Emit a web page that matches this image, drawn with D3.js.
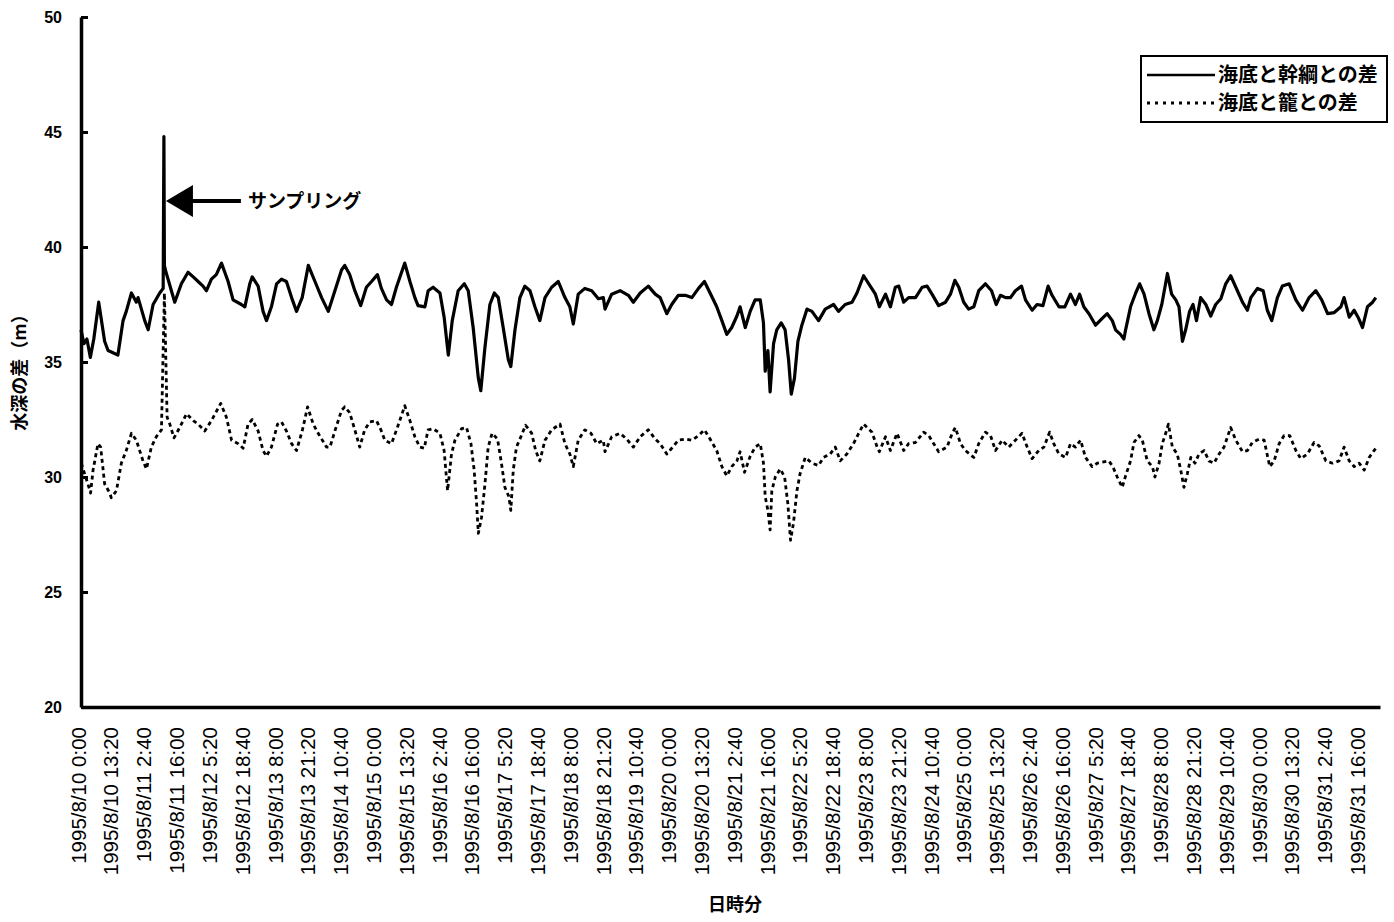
<!DOCTYPE html>
<html lang="ja">
<head>
<meta charset="utf-8">
<title>水深の差</title>
<script src="https://cdn.jsdelivr.net/npm/d3@7"></script>
<style>
  body { margin: 0; background: #fff; }
  svg { display: block; }
</style>
</head>
<body>
<div id="chart"></div>
<script>
// hours after 1995/8/10 0:00
const trunkHours = [
  0, 1.2, 2.4, 3.8, 5.2, 7.2, 9.6, 11, 13, 15,
  17.1, 18.4, 20.5, 22.5, 23.2, 25.9, 27.3, 29.3, 32, 33.4,
  33.7, 33.9, 34.3, 38.1, 40.8, 43.5, 45.6, 47.6, 49.6, 51,
  53, 55, 57.1, 59.8, 61.8, 65.2, 66.6, 68.6, 69.6, 72,
  74, 75.4, 77.4, 79.5, 81.5, 83.5, 85.6, 87.6, 89.9, 92.4,
  95.1, 97.8, 100.5, 103.2, 105.9,
  107.2, 109.2, 111.3, 113.7, 116.0, 118.1, 120.5, 122.1, 124.2, 126.2,
  128.2, 131.6, 133.7, 135.7, 137.0, 139.8, 141.1, 143.1, 145.9, 147.6,
  149.3, 150.9, 153.3, 155.8, 157.4, 159.4, 161.5, 162.5, 164.2, 166.2,
  168.0, 169.6, 171.6, 173.7, 174.7, 176.4, 178.4, 180.4, 182.5, 184.5,
  186.5, 188.6, 191.3, 194.0, 196.7, 198.7, 200.1, 202.1, 204.8, 207.6,
  210.3, 212.3,
  213.0, 215.7, 219.1, 222.5, 224.5, 227.3, 230.6, 233.4, 235.4, 238.1,
  240.1, 242.8, 245.6, 248.3, 251.0, 253.4, 255.7, 258.4, 260.5, 262.5,
  264.5, 266.6, 267.9, 270.0, 272.0, 274.0, 276.1, 277.4, 278.1, 279.2,
  280.1, 281.5, 282.8, 284.6, 286.2, 287.6, 288.7, 290.0, 291.4, 293.0,
  295.1, 297.1, 299.8, 302.5, 305.9, 307.9, 310.6, 313.4, 315.4, 318.1,
  320.8, 322.9, 324.5, 327.0, 329.0, 331.0, 332.4, 334.4, 336.4, 339.2,
  341.9, 343.9, 345.9, 348.6, 351.4, 353.4, 355.2, 356.8, 358.8, 360.8,
  362.9, 364.9, 367.6, 370.1, 372.0, 373.7, 375.8, 377.8, 379.8, 382.3,
  383.9, 386.6, 388.6, 391.0, 393.1, 394.7, 397.5, 399.9, 402.2, 404.2,
  405.9, 407.6, 409.7, 412.4, 415.1, 417.1, 419.2, 420.5, 422.5, 423.9,
  424.6, 426.6, 428.7, 430.3, 432.1, 434.1, 436.1, 437.5, 439.3, 441.6,
  443.3, 445.0, 446.3, 447.7, 449.0, 450.6, 452.0, 453.4, 455.1, 457.2,
  459.2, 461.2, 463.3, 465.3, 467.3, 469.4, 472.1, 474.1, 475.5, 478.2,
  480.5, 482.2, 484.0, 486.3, 488.3, 491.1, 493.8, 496.5, 499.2, 501.9,
  504.3, 506.7, 509.4, 512.1, 513.4, 515.5, 517.5, 519.3, 520.9, 522.9,
  525.0, 526.3
];
// 海底と幹綱との差 (m)
const trunkDepth = [
  36.4, 35.8, 36.0, 35.2, 36.0, 37.6, 35.9, 35.5, 35.4, 35.3,
  36.8, 37.2, 38.0, 37.6, 37.8, 36.8, 36.4, 37.5, 38.0, 38.2,
  44.8, 39.2, 39.0, 37.6, 38.4, 38.9, 38.7, 38.5, 38.3, 38.1,
  38.6, 38.8, 39.3, 38.5, 37.7, 37.5, 37.4, 38.4, 38.7, 38.3,
  37.2, 36.8, 37.4, 38.4, 38.6, 38.5, 37.8, 37.2, 37.8, 39.2,
  38.5, 37.8, 37.2, 38.1, 39.0,
  39.2, 38.8, 38.1, 37.45, 38.25, 38.5, 38.8, 38.2, 37.7, 37.5,
  38.25, 39.3, 38.5, 37.8, 37.45, 37.4, 38.1, 38.25, 38.0, 36.95,
  35.3, 36.8, 38.1, 38.4, 38.1, 36.5, 34.3, 33.75, 35.65, 37.5,
  38.0, 37.8, 36.5, 35.1, 34.8, 36.4, 37.8, 38.3, 38.1, 37.4,
  36.8, 37.8, 38.25, 38.5, 37.8, 37.4, 36.65, 37.95, 38.2, 38.1,
  37.75, 37.8,
  37.3, 37.95, 38.1, 37.9, 37.6, 38.0, 38.3, 37.95, 37.8, 37.1,
  37.5, 37.9, 37.9, 37.8, 38.2, 38.5, 38.0, 37.4, 36.8, 36.2,
  36.5, 37.0, 37.4, 36.5, 37.2, 37.7, 37.7, 36.7, 34.6, 35.5,
  33.7, 35.8, 36.4, 36.7, 36.4, 35.1, 33.6, 34.3, 35.9, 36.6,
  37.3, 37.2, 36.8, 37.3, 37.5, 37.2, 37.5, 37.6, 38.0, 38.75,
  38.3, 37.95, 37.4, 37.95, 37.4, 38.25, 38.3, 37.6, 37.8, 37.8,
  38.25, 38.3, 37.95, 37.45, 37.6, 37.95, 38.55, 38.25, 37.6, 37.3,
  37.4, 38.1, 38.4, 38.1, 37.5, 37.9, 37.8, 37.8, 38.1, 38.3,
  37.7, 37.25, 37.5, 37.45, 38.3, 37.9, 37.4, 37.4, 37.95, 37.5,
  37.95, 37.4, 37.1, 36.6, 36.9, 37.1, 36.8, 36.4, 36.2, 36.0,
  36.4, 37.4, 38.0, 38.4, 37.95, 37.1, 36.4, 36.8, 37.5, 38.85,
  37.95, 37.7, 37.4, 35.9, 36.4, 37.2, 37.5, 36.8, 37.8, 37.5,
  37.0, 37.5, 37.75, 38.4, 38.75, 38.25, 37.6, 37.25, 37.8, 38.2,
  38.1, 37.25, 36.8, 37.8, 38.3, 38.4, 37.7, 37.25, 37.8, 38.1,
  37.7, 37.1, 37.15, 37.4, 37.8, 36.95, 37.25, 36.9, 36.5, 37.4,
  37.6, 37.8
];

const cageHours = [
  0.1, 2.8, 3.9, 4.9, 6.9, 8.0, 9.6, 11.7, 12.3, 14.4,
  16.4, 18.4, 20.5, 22.5, 25.2, 26.6, 28.6, 30.6, 32.7, 33.9,
  35.0, 36.1, 37.8, 40.1, 42.9, 45.6, 47.6, 50.3, 53.0, 56.8,
  59.1, 61.2, 63.9, 65.9, 67.9, 69.6, 72.0, 74.0, 75.4, 77.4,
  79.9, 81.5, 83.5, 85.6, 87.6, 89.9, 92.1, 94.4, 96.4, 99.8,
  101.2, 103.2, 105.9,
  107.2, 109.2, 111.3, 113.3, 115.3, 117.4, 120.1, 121.9, 123.5, 126.2,
  128.6, 131.6, 133.7, 135.7, 137.7, 139.5, 141.1, 143.1, 145.9, 147.6,
  149.0, 150.6, 152.0, 154.7, 156.7, 158.5, 159.8, 160.8, 161.5, 162.8,
  164.2, 165.5, 167.1, 169.3, 170.9, 172.3, 173.9, 174.7, 175.7, 177.0,
  178.8, 180.7, 183.2, 184.8, 186.5, 188.6, 191.3, 194.7, 196.7, 198.7,
  200.1, 202.1, 204.8, 207.3, 209.6, 212.3,
  213.0, 215.7, 219.1, 221.8, 224.5, 227.3, 230.6, 233.4, 235.4, 238.1,
  240.1, 242.8, 245.6, 248.3, 251.0, 253.4, 255.7, 258.4, 260.5, 262.5,
  264.5, 266.6, 267.9, 269.7, 272.0, 274.0, 276.1, 277.4, 278.1, 279.2,
  280.1, 280.8, 282.2, 284.2, 286.0, 287.3, 288.4, 289.6, 291.0, 292.3,
  294.4, 297.1, 299.8, 301.8, 304.5, 306.6, 308.6, 311.3, 314.0, 316.1,
  318.1,
  321.5, 323.6, 324.5, 327.0, 329.0, 331.7, 334.4, 336.4, 339.2, 342.5,
  344.6, 346.6, 348.6, 352.0, 354.1, 355.4, 357.5, 359.5, 362.9, 364.9,
  367.6, 369.7, 371.7, 374.4, 377.1, 379.8, 382.5, 384.6, 386.6, 389.3,
  391.4, 393.7, 395.4, 397.5, 400.2, 402.2, 404.2, 406.3, 408.3, 411.0,
  413.1, 415.1, 417.8, 419.4, 421.2, 423.2,
  424.6, 426.6, 428.0, 430.0, 431.4, 433.4, 435.5, 436.5, 438.2, 439.5,
  440.9, 442.0, 443.6, 445.6, 447.0, 448.3, 449.7, 451.1, 452.8, 454.4,
  456.5, 458.5, 460.5, 462.6, 464.6, 467.3, 469.4, 472.1, 474.1, 476.1,
  478.9, 480.9, 483.2, 485.0, 487.0, 489.0, 491.3, 493.8, 495.8, 498.5,
  501.2, 503.3, 506.0, 508.7, 511.4, 513.4, 515.5, 517.5, 519.5, 521.6,
  523.6, 525.6, 526.3
];
// 海底と籠との差 (m)
const cageDepth = [
  30.6, 29.7, 29.3, 30.3, 31.45, 31.3, 29.7, 29.3, 29.1, 29.4,
  30.6, 31.15, 31.9, 31.6, 30.7, 30.35, 31.3, 31.75, 32.05, 38.0,
  32.6, 32.3, 31.7, 32.15, 32.75, 32.45, 32.3, 32.0, 32.45, 33.2,
  32.6, 31.6, 31.45, 31.25, 32.3, 32.5, 32.0, 31.15, 30.9, 31.3,
  32.3, 32.4, 32.0, 31.45, 31.15, 32.0, 33.05, 32.3, 31.9, 31.3,
  31.3, 32.0, 32.9,
  33.05, 32.8, 32.05, 31.3, 32.05, 32.4, 32.45, 32.05, 31.6, 31.45,
  32.15, 33.1, 32.45, 31.75, 31.3, 31.25, 32.05, 32.1, 31.9, 31.15,
  29.4, 31.0, 31.6, 32.1, 32.15, 31.45, 30.3, 28.85, 27.55, 28.25,
  29.7, 31.3, 31.9, 31.65, 30.6, 29.55, 29.15, 28.55, 30.3, 31.3,
  31.75, 32.25, 31.9, 31.15, 30.7, 31.6, 32.05, 32.3, 31.45, 31.0,
  30.45, 31.6, 32.05, 31.9, 31.45, 31.6,
  31.1, 31.75, 31.9, 31.65, 31.3, 31.75, 32.05, 31.65, 31.45, 31.0,
  31.25, 31.6, 31.65, 31.6, 31.8, 32.05, 31.65, 31.15, 30.45, 30.05,
  30.45, 30.7, 31.1, 30.2, 30.9, 31.3, 31.45, 30.6, 29.15, 28.55,
  27.7, 29.4, 30.0, 30.35, 30.0, 28.85, 27.25, 28.0, 29.4, 30.15,
  30.85, 30.6, 30.5, 30.85, 31.0, 31.3, 30.7, 31.0, 31.45, 31.9,
  32.3,
  31.95, 31.3, 31.1, 31.75, 31.15, 31.9, 31.15, 31.45, 31.5, 31.95,
  31.8, 31.45, 31.1, 31.3, 31.9, 32.15, 31.45, 31.15, 30.85, 31.45,
  31.95, 31.8, 31.15, 31.6, 31.3, 31.6, 31.9, 31.3, 30.8, 31.15,
  31.3, 31.95, 31.45, 31.0, 30.85, 31.45, 31.3, 31.6, 30.85, 30.45,
  30.6, 30.65, 30.7, 30.45, 30.0, 29.55,
  30.05, 30.7, 31.5, 31.8, 31.6, 30.7, 30.45, 30.0, 30.6, 31.45,
  31.9, 32.3, 31.3, 31.0, 30.3, 29.55, 30.15, 30.85, 30.6, 31.0,
  31.15, 30.7, 30.6, 31.0, 31.3, 32.15, 31.6, 31.1, 31.15, 31.5,
  31.65, 31.6, 30.45, 30.7, 31.45, 31.8, 31.8, 31.15, 30.8, 31.0,
  31.5, 31.35, 30.7, 30.6, 30.7, 31.3, 30.7, 30.45, 30.6, 30.3,
  30.85, 31.15, 31.25
];

const seriesNames = ["海底と幹綱との差", "海底と籠との差"];
const yTicks = [20, 25, 30, 35, 40, 45, 50];
const tickStepMinutes = 800; // x labels every 13:20
const tickCount = 40;
const samplingHour = 33.7;
const samplingLabel = "サンプリング";
const yTitle = "水深の差（m）";
const xTitle = "日時分";

const width = 1394;
const height = 922;
const startMs = Date.UTC(1995, 7, 10, 0, 0);
const endMs = Date.UTC(1995, 8, 1, 0, 0);
const toDate = (h) => new Date(startMs + h * 3600e3);

const x = d3.scaleUtc()
  .domain([new Date(startMs), new Date(endMs)])
  .range([81, 1380]);

const y = d3.scaleLinear()
  .domain([20, 50])
  .range([707, 17]);

const svg = d3.select("#chart")
  .append("svg")
  .attr("width", width)
  .attr("height", height)
  .attr("viewBox", [0, 0, width, height])
  .style("background", "#fff");

const jpFont = "'Noto Sans CJK JP', 'Noto Sans', sans-serif";

// series
const line = d3.line()
  .x((d) => x(d.t))
  .y((d) => y(d.v));

const trunk = trunkHours.map((h, i) => ({ t: toDate(h), v: trunkDepth[i] }));
const cage = cageHours.map((h, i) => ({ t: toDate(h), v: cageDepth[i] }));

svg.append("path")
  .datum(cage)
  .attr("fill", "none")
  .attr("stroke", "#000")
  .attr("stroke-width", 2.8)
  .attr("stroke-dasharray", "4,3.5")
  .attr("stroke-linejoin", "round")
  .attr("d", line);

svg.append("path")
  .datum(trunk)
  .attr("fill", "none")
  .attr("stroke", "#000")
  .attr("stroke-width", 3.2)
  .attr("stroke-linejoin", "round")
  .attr("d", line);

// y axis, ticks point inwards
const yAxis = svg.append("g")
  .attr("transform", `translate(${x.range()[0]},0)`)
  .call(
    d3.axisLeft(y)
      .tickValues(yTicks)
      .tickSizeInner(-7)
      .tickSizeOuter(0)
      .tickPadding(19)
  );
yAxis.select(".domain").attr("stroke-width", 3.5);
yAxis.selectAll(".tick line").attr("stroke-width", 3);
yAxis.selectAll(".tick text")
  .attr("font-family", "'Liberation Sans', Arial, sans-serif")
  .attr("font-weight", "bold")
  .attr("font-size", 16)
  .attr("fill", "#000");

// x axis, rotated date labels
const xTickDates = d3.range(tickCount).map(
  (i) => new Date(startMs + i * tickStepMinutes * 60e3)
);
const fmt = d3.utcFormat("%Y/%-m/%-d %-H:%M");

const xAxis = svg.append("g")
  .attr("transform", `translate(0,${y.range()[0]})`)
  .call(
    d3.axisBottom(x)
      .tickValues(xTickDates)
      .tickFormat(fmt)
      .tickSize(0)
      .tickSizeOuter(0)
  );
xAxis.select(".domain").attr("stroke-width", 3.5);
xAxis.selectAll(".tick text")
  .attr("transform", "rotate(-90)")
  .attr("text-anchor", "end")
  .attr("x", -20)
  .attr("y", -3)
  .attr("dy", "0.35em")
  .attr("font-family", "'Liberation Sans', Arial, sans-serif")
  .attr("font-size", 20.5)
  .attr("fill", "#000");

// sampling marker
const sx = x(toDate(samplingHour)) + 2;
const sy = 201;
svg.append("path")
  .attr("d", `M${sx},${sy}L${sx + 27},${sy - 16}L${sx + 27},${sy + 16}Z`)
  .attr("fill", "#000");
svg.append("line")
  .attr("x1", sx + 25).attr("x2", sx + 75)
  .attr("y1", sy).attr("y2", sy)
  .attr("stroke", "#000")
  .attr("stroke-width", 4);
svg.append("text")
  .attr("x", sx + 82)
  .attr("y", sy)
  .attr("dy", "0.35em")
  .attr("font-family", jpFont)
  .attr("font-weight", "bold")
  .attr("font-size", 19)
  .text(samplingLabel);

// axis titles
svg.append("text")
  .attr("transform", "translate(20,368) rotate(-90)")
  .attr("text-anchor", "middle")
  .attr("dy", "0.35em")
  .attr("font-family", jpFont)
  .attr("font-weight", "bold")
  .attr("font-size", 18)
  .text(yTitle);

svg.append("text")
  .attr("x", 735)
  .attr("y", 905)
  .attr("text-anchor", "middle")
  .attr("dy", "0.35em")
  .attr("font-family", jpFont)
  .attr("font-weight", "bold")
  .attr("font-size", 18)
  .text(xTitle);

// legend
const legend = svg.append("g").attr("transform", "translate(1141,56)");
legend.append("rect")
  .attr("width", 246)
  .attr("height", 66)
  .attr("fill", "#fff")
  .attr("stroke", "#000")
  .attr("stroke-width", 2);

const legendRows = legend.selectAll("g.row")
  .data(seriesNames)
  .join("g")
  .attr("class", "row")
  .attr("transform", (d, i) => `translate(0,${19 + i * 28})`);

legendRows.append("line")
  .attr("x1", 6)
  .attr("x2", 74)
  .attr("stroke", "#000")
  .attr("stroke-width", (d, i) => (i ? 3 : 2.5))
  .attr("stroke-dasharray", (d, i) => (i ? "3,5" : null));

legendRows.append("text")
  .attr("x", 77)
  .attr("dy", "0.35em")
  .attr("font-family", jpFont)
  .attr("font-weight", "bold")
  .attr("font-size", 20)
  .text((d) => d);
</script>
</body>
</html>
